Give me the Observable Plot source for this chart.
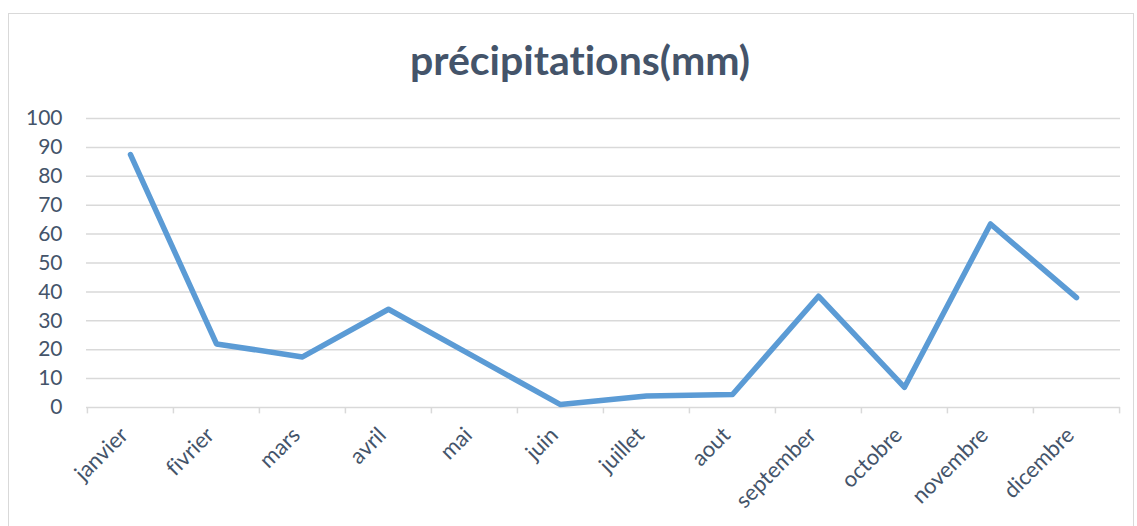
<!DOCTYPE html>
<html>
<head>
<meta charset="utf-8">
<script src="https://cdn.jsdelivr.net/npm/d3@7"></script>
<script src="https://cdn.jsdelivr.net/npm/@observablehq/plot@0.6"></script>
<style>
  html, body { margin: 0; padding: 0; background: #fff; }
  #frame { position: absolute; left: 8px; top: 13px; width: 1126px; height: 520px; border: 1.5px solid #D9D9D9; box-sizing: border-box; }
  #title { position: absolute; left: 0; top: 35px; width: 1160px; text-align: center; font-family: Lato, sans-serif; font-weight: 700; font-size: 41px; color: #44546A; font-variant-ligatures: none; }
  #chart { position: absolute; left: 0; top: 0; }
  #chart svg text { font-variant-ligatures: none; }
</style>
</head>
<body>
<div id="frame"></div>
<div id="title">précipitations(mm)</div>
<div id="chart"></div>
<script>
const months = ["janvier","fivrier","mars","avril","mai","juin","juillet","aout","september","octobre","novembre","dicembre"];
const rain = [87.5, 22, 17.5, 34, 17.5, 1, 4, 4.5, 38.5, 7, 63.5, 38];
const yTicks = [0,10,20,30,40,50,60,70,80,90,100];

const data = months.map((m, i) => ({month: m, value: rain[i]}));
const half = 1034 / 12 / 2;
const textColor = "#44546A";
const gridColor = "#D9D9D9";

const chart = Plot.plot({
  width: 1137,
  height: 526,
  marginLeft: 86,
  marginRight: 17,
  marginTop: 118,
  marginBottom: 119,
  style: { fontFamily: "Lato, sans-serif", fontSize: "21px", color: textColor, background: "transparent" },
  x: { type: "point", domain: months, padding: 0.5, label: null },
  y: { domain: [0, 100], label: null },
  marks: [
    Plot.ruleY(yTicks, { stroke: gridColor, strokeWidth: 1.5 }),
    Plot.ruleX(months, { x: d => d, y1: 0, y2: -2.2, dx: -half, stroke: gridColor, strokeWidth: 1.5 }),
    Plot.ruleX([months[months.length - 1]], { x: d => d, y1: 0, y2: -2.2, dx: half, stroke: gridColor, strokeWidth: 1.5 }),
    Plot.axisY(yTicks, { tickSize: 0, tickPadding: 24, fill: textColor, fontSize: 21, label: null }),
    Plot.axisX(months, { tickSize: 0, tickPadding: 22, tickRotate: -45, dx: -6, dy: 2, fill: textColor, fontSize: 22, label: null }),
    Plot.line(data, { x: "month", y: "value", stroke: "#5B9BD5", strokeWidth: 5.5, strokeLinecap: "round", strokeLinejoin: "round" })
  ]
});
document.getElementById("chart").appendChild(chart);
</script>
</body>
</html>
